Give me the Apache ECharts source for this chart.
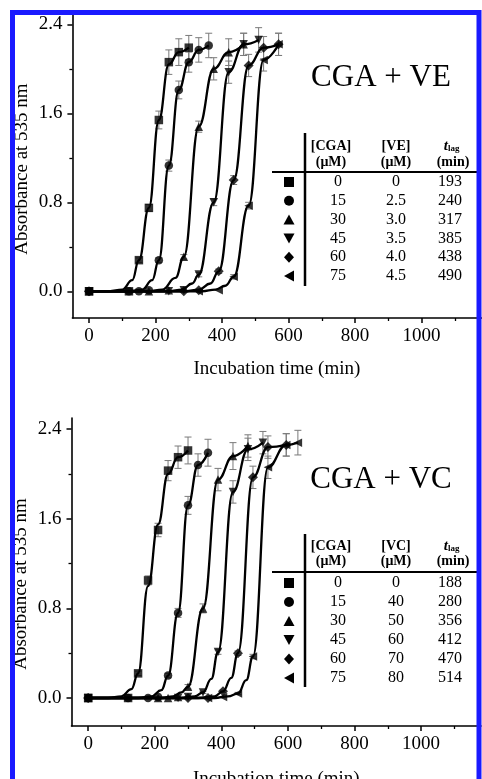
<!DOCTYPE html>
<html><head><meta charset="utf-8">
<script src="https://cdn.jsdelivr.net/npm/echarts@6/dist/echarts.min.js"></script>
<style>html,body{margin:0;padding:0;background:#fff}#c{width:482px;height:779px}</style>
</head><body><div id="c"></div>
<script>
// ---------- measured points: CGA + VE (top panel) ----------
const ve_sq_t = [0,120,150,180,210,240,270,300];
const ve_sq_a = [0,0,0.28,0.75,1.54,2.06,2.15,2.19];
const ve_sq_e = [0,0,0.02,0.03,0.08,0.11,0.12,0.11];
const ve_ci_t = [0,120,150,180,210,240,270,300,330,360];
const ve_ci_a = [0,0,0,0.01,0.28,1.13,1.81,2.06,2.17,2.21];
const ve_ci_e = [0,0,0,0,0.02,0.05,0.08,0.09,0.11,0.11];
const ve_tu_t = [0,180,240,285,330,375,420,465];
const ve_tu_a = [0,0,0.01,0.31,1.48,2.00,2.15,2.22];
const ve_tu_e = [0,0,0,0.02,0.05,0.10,0.12,0.10];
const ve_td_t = [0,240,285,330,375,420,465,510];
const ve_td_a = [0,0,0.01,0.15,0.80,1.97,2.22,2.26];
const ve_td_e = [0,0,0,0.02,0.03,0.10,0.10,0.11];
const ve_di_t = [0,285,330,390,435,480,525,570];
const ve_di_a = [0,0,0.01,0.18,1.00,2.03,2.19,2.22];
const ve_di_e = [0,0,0,0.02,0.04,0.10,0.10,0.10];
const ve_tl_t = [0,330,390,435,480,525,570];
const ve_tl_a = [0,0,0.01,0.13,0.77,2.08,2.22];
const ve_tl_e = [0,0,0,0.02,0.03,0.10,0.10];
// fitted curves, top panel
const ve_sq_ft = [0,60,100,130,150,180,210,240,270,300];
const ve_sq_fa = [0,0,0.015,0.1,0.28,0.75,1.54,2.04,2.15,2.19];
const ve_ci_ft = [0,120,160,190,210,240,270,300,330,360];
const ve_ci_fa = [0,0,0.015,0.1,0.28,1.13,1.81,2.06,2.17,2.21];
const ve_tu_ft = [0,180,220,260,285,330,375,420,465];
const ve_tu_fa = [0,0,0.015,0.12,0.31,1.48,2.0,2.15,2.22];
const ve_td_ft = [0,240,280,310,330,375,420,465,510];
const ve_td_fa = [0,0,0.015,0.07,0.15,0.80,1.97,2.22,2.26];
const ve_di_ft = [0,290,330,365,390,435,480,525,570];
const ve_di_fa = [0,0,0.015,0.07,0.18,1.0,2.03,2.19,2.22];
const ve_tl_ft = [0,340,380,410,435,480,525,570];
const ve_tl_fa = [0,0,0.015,0.05,0.13,0.77,2.08,2.22];

// ---------- measured points: CGA + VC (bottom panel) ----------
const vc_sq_t = [0,120,150,180,210,240,270,300];
const vc_sq_a = [0,0,0.22,1.05,1.50,2.03,2.15,2.21];
const vc_sq_e = [0,0,0.02,0.04,0.06,0.09,0.10,0.12];
const vc_ci_t = [0,120,180,210,240,270,300,330,360];
const vc_ci_a = [0,0,0,0.01,0.20,0.76,1.72,2.08,2.19];
const vc_ci_e = [0,0,0,0,0.02,0.04,0.08,0.10,0.12];
const vc_tu_t = [0,210,240,270,300,345,390,435,480];
const vc_tu_a = [0,0,0,0.01,0.10,0.80,1.95,2.16,2.25];
const vc_tu_e = [0,0,0,0,0.02,0.04,0.10,0.12,0.10];
const vc_td_t = [0,270,300,345,390,435,480,525];
const vc_td_a = [0,0,0.01,0.05,0.41,1.84,2.22,2.28];
const vc_td_e = [0,0,0,0.01,0.02,0.10,0.10,0.10];
const vc_di_t = [0,300,360,405,450,495,540,595];
const vc_di_a = [0,0,0,0.06,0.40,1.97,2.24,2.26];
const vc_di_e = [0,0,0,0.01,0.02,0.10,0.10,0.10];
const vc_tl_t = [0,360,405,450,495,540,595,630];
const vc_tl_a = [0,0,0.01,0.04,0.37,2.06,2.26,2.28];
const vc_tl_e = [0,0,0,0.01,0.02,0.10,0.10,0.11];
// fitted curves, bottom panel
const vc_sq_ft = [0,60,100,130,150,180,210,240,270,300];
const vc_sq_fa = [0,0,0.015,0.08,0.22,1.0,1.55,2.0,2.15,2.21];
const vc_ci_ft = [0,150,190,220,240,270,300,330,360];
const vc_ci_fa = [0,0,0.015,0.07,0.20,0.76,1.72,2.08,2.19];
const vc_tu_ft = [0,220,255,280,300,345,390,435,480];
const vc_tu_fa = [0,0,0.015,0.05,0.10,0.80,1.95,2.16,2.25];
const vc_td_ft = [0,280,320,345,370,390,435,480,525];
const vc_td_fa = [0,0,0.015,0.05,0.17,0.41,1.84,2.22,2.28];
const vc_di_ft = [0,330,380,405,430,450,495,540,595];
const vc_di_fa = [0,0,0.015,0.06,0.18,0.40,1.97,2.24,2.26];
const vc_tl_ft = [0,380,420,450,475,495,540,595,630];
const vc_tl_fa = [0,0,0.015,0.04,0.16,0.37,2.06,2.26,2.28];

// ---------- table / ticks ----------
const cgaConc = ['0','15','30','45','60','75'];
const veConc  = ['0','2.5','3.0','3.5','4.0','4.5'];
const veLag   = ['193','240','317','385','438','490'];
const vcConc  = ['0','40','50','60','70','80'];
const vcLag   = ['188','280','356','412','470','514'];
const xMajor = [0,200,400,600,800,1000];
const xMinor = [100,300,500,700,900,1100];
const yMajor = [0,0.8,1.6,2.4];
const yMinor = [0.4,1.2,2.0];
const panelTitles = ['CGA + VE','CGA + VC'];
const colHeads = [['[CGA]','[VE]'],['[CGA]','[VC]']];

const FONT = 'Liberation Serif';
const symbols = ['rect','circle','triangle','triangle','diamond','triangle'];
const rotates = [0,0,0,180,0,90];

const veSeries = [
  [ve_sq_t,ve_sq_a,ve_sq_e,ve_sq_ft,ve_sq_fa],[ve_ci_t,ve_ci_a,ve_ci_e,ve_ci_ft,ve_ci_fa],
  [ve_tu_t,ve_tu_a,ve_tu_e,ve_tu_ft,ve_tu_fa],[ve_td_t,ve_td_a,ve_td_e,ve_td_ft,ve_td_fa],
  [ve_di_t,ve_di_a,ve_di_e,ve_di_ft,ve_di_fa],[ve_tl_t,ve_tl_a,ve_tl_e,ve_tl_ft,ve_tl_fa]];
const vcSeries = [
  [vc_sq_t,vc_sq_a,vc_sq_e,vc_sq_ft,vc_sq_fa],[vc_ci_t,vc_ci_a,vc_ci_e,vc_ci_ft,vc_ci_fa],
  [vc_tu_t,vc_tu_a,vc_tu_e,vc_tu_ft,vc_tu_fa],[vc_td_t,vc_td_a,vc_td_e,vc_td_ft,vc_td_fa],
  [vc_di_t,vc_di_a,vc_di_e,vc_di_ft,vc_di_fa],[vc_tl_t,vc_tl_a,vc_tl_e,vc_tl_ft,vc_tl_fa]];

const grids = [
  {left:72.4, top:13.2, width:409, height:304.8, outerBoundsMode:'none', containLabel:false},
  {left:71.5, top:418, width:409.5, height:308, outerBoundsMode:'none', containLabel:false}
];
const xNameGap = [42, 44];
const yNamePad = [[0,7,0,0],[0,24,0,0]];

const xAxis = [], yAxis = [], series = [], graphic = [];
const black = '#000';
grids.forEach((g, gi) => {
  xAxis.push({
    type:'value', gridIndex:gi, min:-50, max:1180, position:'bottom',
    axisLine:{show:true, onZero:false, lineStyle:{color:black, width:1.6}},
    axisTick:{show:true, customValues:xMajor, length:5, lineStyle:{color:black, width:1.5}},
    axisLabel:{show:true, customValues:xMajor, color:black, fontFamily:FONT, fontSize:19, margin:9,
               formatter: v => String(Math.round(v))},
    splitLine:{show:false},
    name:'Incubation time (min)', nameLocation:'middle', nameGap:xNameGap[gi], nameMoveOverlap:false,
    nameTextStyle:{color:black, fontFamily:FONT, fontSize:19}
  });
  xAxis.push({
    type:'value', gridIndex:gi, min:-50, max:1180, position:'bottom',
    axisLine:{show:false, onZero:false},
    axisTick:{show:true, customValues:xMinor, length:3, lineStyle:{color:black, width:1.3}},
    axisLabel:{show:false}, splitLine:{show:false}
  });
  const ymin = gi === 0 ? -0.24 : -0.25;
  yAxis.push({
    type:'value', gridIndex:gi, min:ymin, max:2.5, position:'left',
    axisLine:{show:true, onZero:false, lineStyle:{color:black, width:1.6}},
    axisTick:{show:true, customValues:yMajor, length:5, lineStyle:{color:black, width:1.5}},
    axisLabel:{show:true, customValues:yMajor, color:black, fontFamily:FONT, fontSize:19, margin:10,
               formatter: v => Number(v).toFixed(1)},
    splitLine:{show:false},
    name:'Absorbance at 535 nm', nameLocation:'middle', nameGap:41, nameMoveOverlap:false,
    nameTextStyle:{color:black, fontFamily:FONT, fontSize:19, padding:yNamePad[gi]}
  });
  yAxis.push({
    type:'value', gridIndex:gi, min:ymin, max:2.5, position:'left',
    axisLine:{show:false, onZero:false},
    axisTick:{show:true, customValues:yMinor, length:3, lineStyle:{color:black, width:1.3}},
    axisLabel:{show:false}, splitLine:{show:false}
  });

  const list = gi === 0 ? veSeries : vcSeries;
  list.forEach((s, si) => {
    const [t, a, e, ft, fa] = s;
    const pts = t.map((x, i) => [x, a[i]]);
    const fit = ft.map((x, i) => [x, fa[i]]);
    const errPts = [];
    t.forEach((x, i) => { if (e[i] > 0) errPts.push([x, a[i], e[i]]); });
    series.push({
      type:'custom', xAxisIndex:gi*2, yAxisIndex:gi*2, data:errPts, silent:true, z:1,
      encode:{x:0, y:1},
      renderItem:(params, api) => {
        const x = api.value(0), y = api.value(1), er = api.value(2);
        const p1 = api.coord([x, y + er]), p2 = api.coord([x, y - er]);
        const w = 3.5, st = {stroke:'#7a7a7a', lineWidth:1};
        return {type:'group', children:[
          {type:'line', shape:{x1:p1[0], y1:p1[1], x2:p2[0], y2:p2[1]}, style:st},
          {type:'line', shape:{x1:p1[0]-w, y1:p1[1], x2:p1[0]+w, y2:p1[1]}, style:st},
          {type:'line', shape:{x1:p2[0]-w, y1:p2[1], x2:p2[0]+w, y2:p2[1]}, style:st}
        ]};
      }
    });
    series.push({
      type:'line', xAxisIndex:gi*2, yAxisIndex:gi*2, data:fit, z:2,
      smooth:0.45, smoothMonotone:'x', symbol:'none', showSymbol:false,
      lineStyle:{color:black, width:2.3}, silent:true
    });
    series.push({
      type:'scatter', xAxisIndex:gi*2, yAxisIndex:gi*2, data:pts, z:3,
      symbol:symbols[si], symbolRotate:rotates[si], symbolSize:si===4?10:8.5,
      itemStyle:{color:black}, silent:true
    });
  });
});

// ---------- titles and tables ----------
function txt(str, x, y, font, align) {
  return {type:'text', x:x, y:y, z:10,
    style:{text:str, font:font, fill:black, align:align||'center', verticalAlign:'middle',
           textAlign:align||'center', textVerticalAlign:'middle'}};
}
function marker(kind, cx, cy) {
  const s = 5;
  const st = {fill:black};
  if (kind === 0) return {type:'rect', z:10, shape:{x:cx-s, y:cy-s, width:2*s, height:2*s}, style:st};
  if (kind === 1) return {type:'circle', z:10, shape:{cx:cx, cy:cy, r:s}, style:st};
  if (kind === 2) return {type:'polygon', z:10, shape:{points:[[cx,cy-s],[cx+s+0.5,cy+s],[cx-s-0.5,cy+s]]}, style:st};
  if (kind === 3) return {type:'polygon', z:10, shape:{points:[[cx,cy+s],[cx+s+0.5,cy-s],[cx-s-0.5,cy-s]]}, style:st};
  if (kind === 4) return {type:'polygon', z:10, shape:{points:[[cx,cy-s-0.5],[cx+s,cy],[cx,cy+s+0.5],[cx-s,cy]]}, style:st};
  return {type:'polygon', z:10, shape:{points:[[cx-s,cy],[cx+s,cy-s-0.5],[cx+s,cy+s+0.5]]}, style:st};
}
const tables = [
  {conc:veConc, lag:veLag, rowTop:182, rowStep:18.8, vTop:133, vBot:286, hY:172, h1:146, h2:162, ty:78},
  {conc:vcConc, lag:vcLag, rowTop:583, rowStep:19, vTop:534, vBot:687, hY:572, h1:546, h2:561, ty:480}
];
tables.forEach((tb, ti) => {
  graphic.push(txt(panelTitles[ti], 381, tb.ty, '31px "' + FONT + '"'));
  graphic.push({type:'line', z:10, shape:{x1:305, y1:tb.vTop, x2:305, y2:tb.vBot}, style:{stroke:black, lineWidth:2.5}});
  graphic.push({type:'line', z:10, shape:{x1:272, y1:tb.hY, x2:477, y2:tb.hY}, style:{stroke:black, lineWidth:2}});
  const hb = 'bold 14px "' + FONT + '"';
  graphic.push(txt(colHeads[ti][0], 331, tb.h1, hb));
  graphic.push(txt(colHeads[ti][1], 396, tb.h1, hb));
  graphic.push(txt('t', 448, tb.h1, 'italic bold 15px "' + FONT + '"', 'right'));
  graphic.push(txt('lag', 448, tb.h1 + 3, 'bold 9px "' + FONT + '"', 'left'));
  graphic.push(txt('(\u03bcM)', 331, tb.h2, hb));
  graphic.push(txt('(\u03bcM)', 396, tb.h2, hb));
  graphic.push(txt('(min)', 453, tb.h2, hb));
  const rf = '16px "' + FONT + '"';
  for (let i = 0; i < 6; i++) {
    const y = tb.rowTop + i * tb.rowStep;
    graphic.push(marker(i, 289, y));
    graphic.push(txt(cgaConc[i], 338, y, rf));
    graphic.push(txt(tb.conc[i], 396, y, rf));
    graphic.push(txt(tb.lag[i], 450, y, rf));
  }
});
// blue frame
graphic.push({type:'rect', z:100, shape:{x:12.5, y:12.5, width:466.5, height:800},
  style:{fill:'none', stroke:'#1a1aff', lineWidth:5}});

const chart = echarts.init(document.getElementById('c'), null, {renderer:'canvas'});
chart.setOption({
  animation:false,
  backgroundColor:'#fff',
  grid:grids,
  xAxis:xAxis, yAxis:yAxis, series:series, graphic:graphic
});
</script></body></html>
